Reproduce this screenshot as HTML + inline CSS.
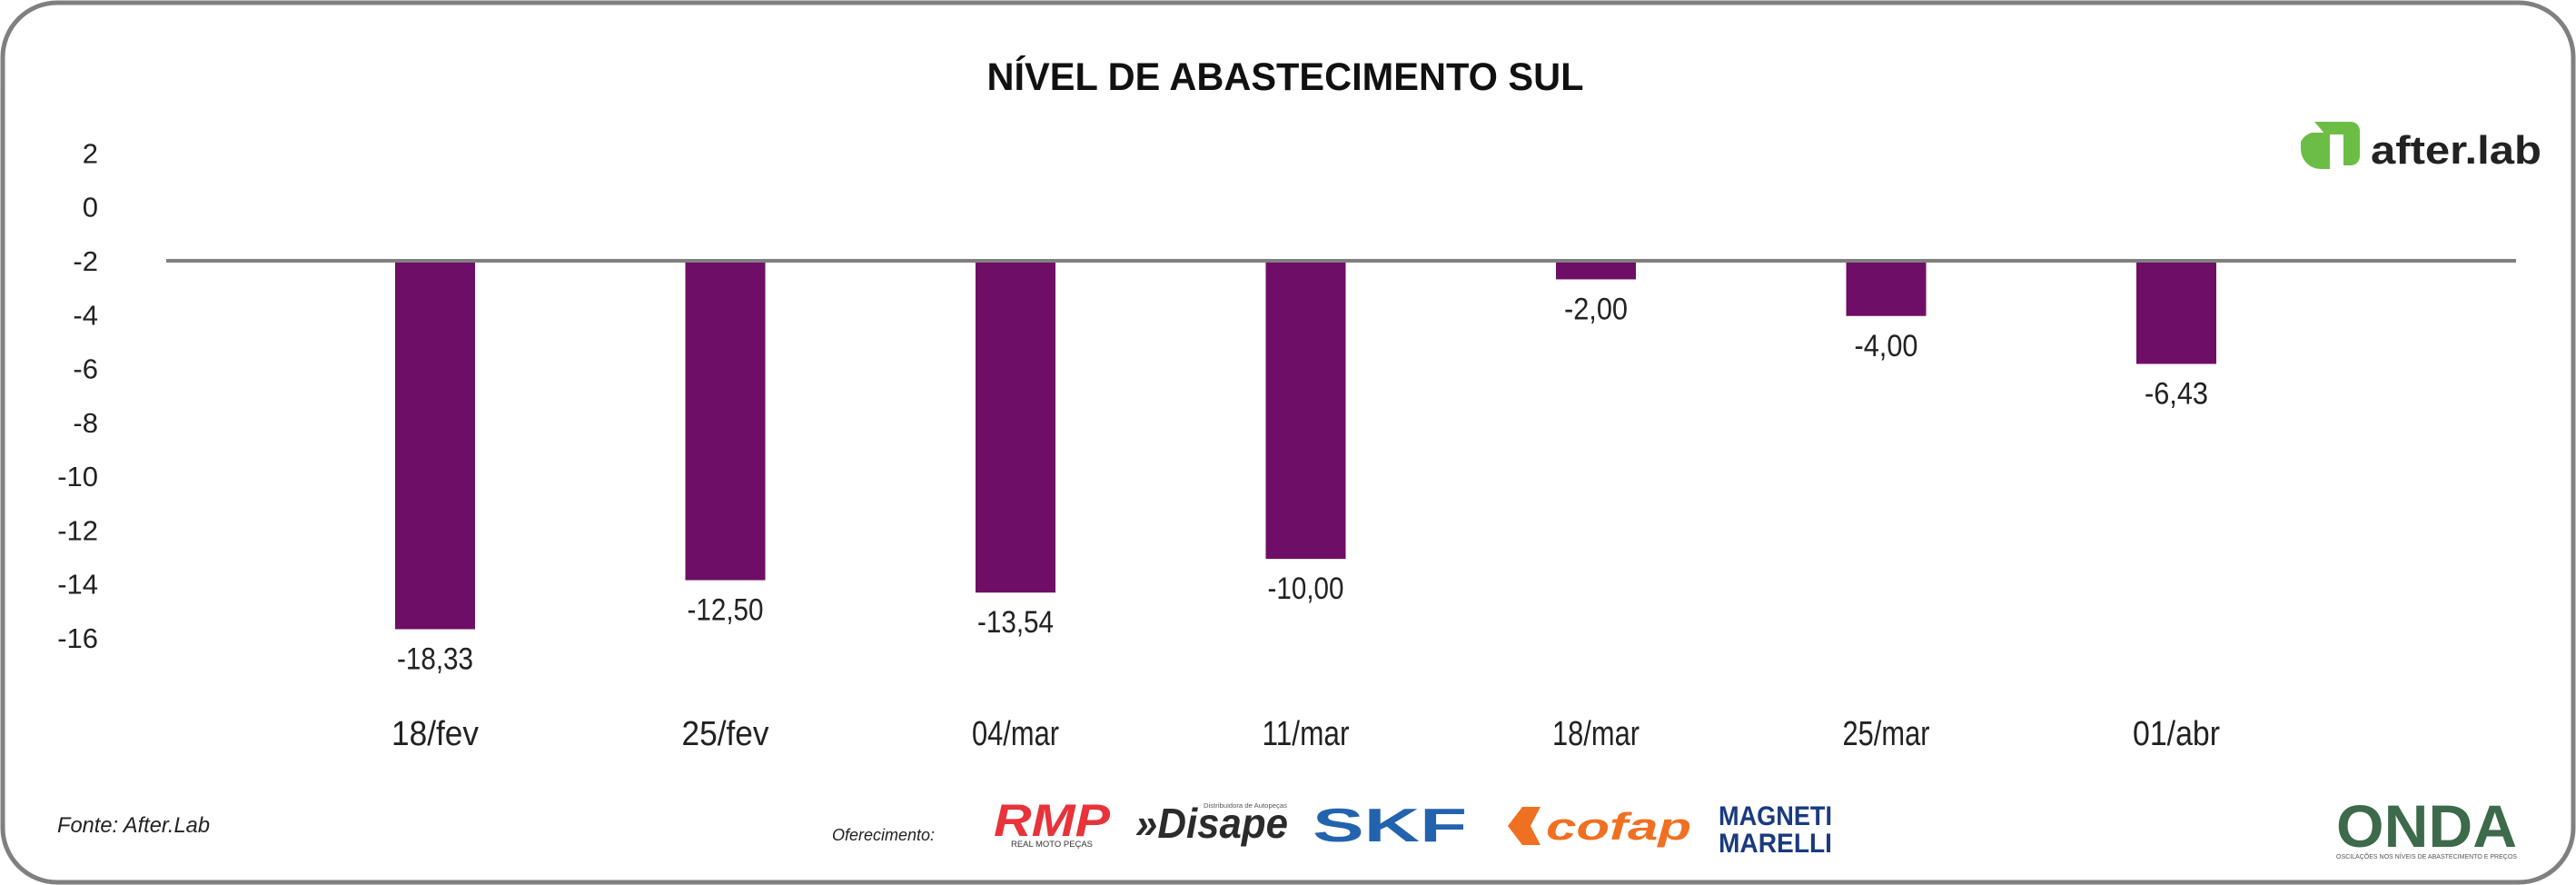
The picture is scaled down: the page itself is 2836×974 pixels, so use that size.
<!DOCTYPE html>
<html><head><meta charset="utf-8"><style>
html,body{margin:0;padding:0;background:#fff;}
svg{display:block;font-family:"Liberation Sans",sans-serif;}
</style></head><body>
<svg id="chart" width="2836" height="974" viewBox="0 0 2836 974" xmlns="http://www.w3.org/2000/svg">
<rect x="3" y="3" width="2830" height="968" rx="60" ry="60" fill="#fff" stroke="#808080" stroke-width="5"/>
<text x="1415" y="99" font-size="43" font-weight="bold" text-anchor="middle" textLength="657" lengthAdjust="spacingAndGlyphs" fill="#111">NÍVEL DE ABASTECIMENTO SUL</text>
<g>
<path d="M2548 134 h40 a10 10 0 0 1 10 10 v28 a10 10 0 0 1 -10 10 h-8 v-34 h-20 z" fill="#6cbd45"/>
<path d="M2545 146 h20 v40 h-10 a22 22 0 0 1 -22 -22 v-8 a20 20 0 0 1 12 -10 z" fill="#6cbd45"/>
<text x="2610" y="180" font-size="44" font-weight="bold" textLength="188" lengthAdjust="spacingAndGlyphs" fill="#222">after.lab</text>
</g>
<g id="yaxis"></g>
<g id="bars"></g>
<line id="baseline" x1="183" x2="2770" stroke="#808080" stroke-width="4"/>
<g id="xaxis"></g>
<text x="63" y="916" font-size="24" font-style="italic" fill="#222" textLength="168" lengthAdjust="spacingAndGlyphs">Fonte: After.Lab</text>
<text x="916" y="925" font-size="18" font-style="italic" fill="#222" textLength="113" lengthAdjust="spacingAndGlyphs">Oferecimento:</text>
<g>
<text x="1094" y="920" font-size="50" font-weight="bold" font-style="italic" fill="#e8333a" textLength="128" lengthAdjust="spacingAndGlyphs">RMP</text>
<text x="1113" y="932" font-size="9" fill="#333" textLength="90" lengthAdjust="spacingAndGlyphs">REAL MOTO PEÇAS</text>
</g>
<g>
<text x="1250" y="922" font-size="46" font-weight="bold" font-style="italic" fill="#2b2b2b" textLength="168" lengthAdjust="spacingAndGlyphs">»Disape</text>
<text x="1325" y="889" font-size="7" fill="#555" textLength="92" lengthAdjust="spacingAndGlyphs">Distribuidora de Autopeças</text>
</g>
<text x="1445" y="926" font-size="52" font-weight="bold" fill="#2363ae" textLength="170" lengthAdjust="spacingAndGlyphs">SKF</text>
<g>
<path d="M1660 909 l16 -21 h20 l-11 21 l11 21 h-20 z" fill="#f07022"/>
<text x="1702" y="924" font-size="42" font-weight="bold" font-style="italic" fill="#f07022" textLength="160" lengthAdjust="spacingAndGlyphs">cofap</text>
</g>
<g>
<text x="1892" y="908" font-size="30" font-weight="bold" fill="#1a3a80" textLength="125" lengthAdjust="spacingAndGlyphs">MAGNETI</text>
<text x="1892" y="938" font-size="30" font-weight="bold" fill="#1a3a80" textLength="125" lengthAdjust="spacingAndGlyphs">MARELLI</text>
</g>
<g>
<text x="2572" y="932" font-size="66" font-weight="bold" fill="#3d6a4a" textLength="199" lengthAdjust="spacingAndGlyphs">ONDA</text>
<text x="2572" y="945" font-size="7" fill="#555" textLength="199" lengthAdjust="spacingAndGlyphs">OSCILAÇÕES NOS NÍVEIS DE ABASTECIMENTO E PREÇOS</text>
</g>
</svg>
<script>
const categories = ["18/fev","25/fev","04/mar","11/mar","18/mar","25/mar","01/abr"];
const barValues = [-15.68,-13.86,-14.32,-13.07,-2.69,-4.05,-5.83];
const valueLabels = ["-18,33","-12,50","-13,54","-10,00","-2,00","-4,00","-6,43"];
const yTicks = [2,0,-2,-4,-6,-8,-10,-12,-14,-16];
const baseValue = -2;

const NS = "http://www.w3.org/2000/svg";
const y = v => 287 + (-2 - v) * 29.64;
const x = i => 479 + i * 319.5;
const BW = 88;
function mk(tag, attrs, parent){const e=document.createElementNS(NS,tag);for(const k in attrs)e.setAttribute(k,attrs[k]);parent.appendChild(e);return e;}
const yaxis=document.getElementById('yaxis'), bars=document.getElementById('bars'), xaxis=document.getElementById('xaxis');
document.getElementById('baseline').setAttribute('y1', y(baseValue));
document.getElementById('baseline').setAttribute('y2', y(baseValue));
yTicks.forEach(t=>{
  const s = String(t);
  const e = mk('text',{x:108,y:y(t)+11,'font-size':31,'text-anchor':'end',fill:'#222'},yaxis);
  e.textContent=s;
  
  
});
categories.forEach((c,i)=>{
  const top=Math.min(y(baseValue),y(barValues[i])), bot=Math.max(y(baseValue),y(barValues[i]));
  const r=mk('rect',{x:x(i)-BW/2,y:top,width:BW,height:bot-top,fill:'#6e0e66'},bars);
  
  
  const lbl=mk('text',{x:x(i),y:bot+44,'font-size':34,'text-anchor':'middle',fill:'#222',textLength:valueLabels[i].length*14,lengthAdjust:'spacingAndGlyphs'},bars);
  lbl.textContent=valueLabels[i];
  
  
  const xl=mk('text',{x:x(i),y:820,'font-size':38,'text-anchor':'middle',fill:'#222',textLength:c.length*16,lengthAdjust:'spacingAndGlyphs'},xaxis);
  xl.textContent=c;
  
  
});
</script>
</body></html>
